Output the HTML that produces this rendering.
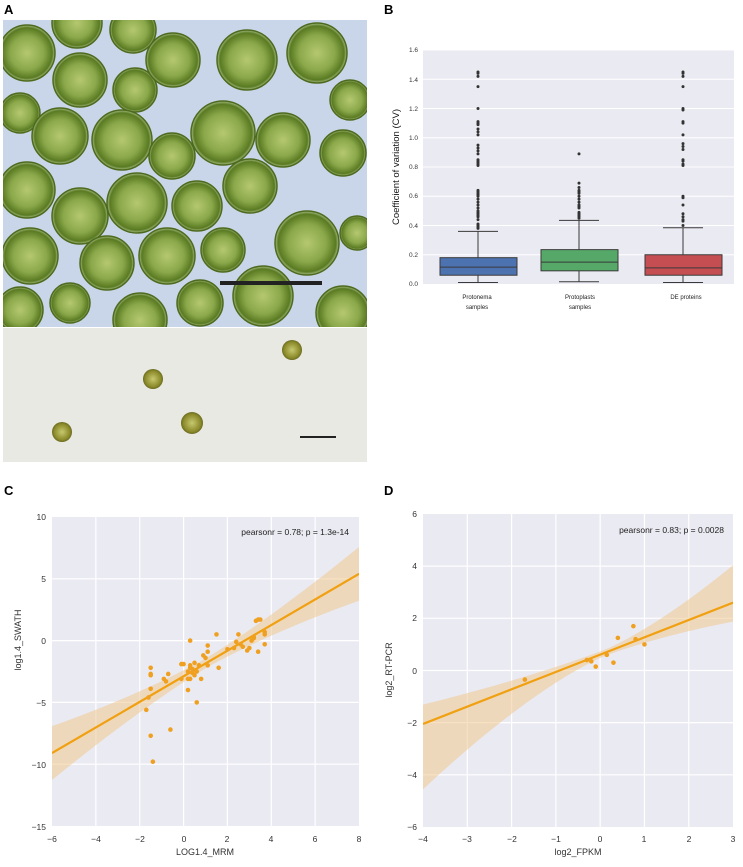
<!DOCTYPE html>
<html><head><meta charset="utf-8"><style>
html,body{margin:0;padding:0;background:#fff}
svg{display:block;font-family:"Liberation Sans",sans-serif}
</style></head><body>
<svg id="s" width="743" height="867" viewBox="0 0 743 867" xmlns="http://www.w3.org/2000/svg">
<defs>
<radialGradient id="cg" cx="50%" cy="50%" r="50%">
<stop offset="0" stop-color="#b5c870"/><stop offset="0.6" stop-color="#8aa84a"/><stop offset="0.9" stop-color="#5a7a22"/><stop offset="1" stop-color="#a7bf86"/>
</radialGradient>
<radialGradient id="sg" cx="50%" cy="50%" r="50%">
<stop offset="0" stop-color="#c8c870"/><stop offset="0.8" stop-color="#8a8a2a"/><stop offset="1" stop-color="#6a6a20"/>
</radialGradient>
<clipPath id="ca"><rect x="3" y="20" width="364" height="307"/></clipPath>
<clipPath id="cc"><rect x="52" y="517" width="307" height="309"/></clipPath>
<clipPath id="cd"><rect x="423" y="514" width="310" height="313"/></clipPath>
</defs>
<text x="4" y="14" font-size="13" font-weight="bold">A</text>
<text x="384" y="14" font-size="13" font-weight="bold">B</text>
<text x="4" y="495" font-size="13" font-weight="bold">C</text>
<text x="384" y="495" font-size="13" font-weight="bold">D</text>
<rect x="3" y="20" width="364" height="307" fill="#c9d6ea"/>
<g id="cells" clip-path="url(#ca)"></g>
<rect x="220" y="281" width="102" height="4" fill="#222"/>
<rect x="3" y="328" width="364" height="134" fill="#e9e9e4"/>
<circle cx="62" cy="432" r="10" fill="url(#sg)"/>
<circle cx="153" cy="379" r="10" fill="url(#sg)"/>
<circle cx="192" cy="423" r="11" fill="url(#sg)"/>
<circle cx="292" cy="350" r="10" fill="url(#sg)"/>
<rect x="300" y="436" width="36" height="2" fill="#222"/>
<!-- B -->
<rect x="423" y="50" width="311" height="234" fill="#eaeaf2"/>
<g id="bgrid" stroke="#fff" stroke-width="1"></g>
<g id="bbox"></g>
<g font-size="6.5" fill="#333" text-anchor="end">
<text x="418" y="286">0.0</text><text x="418" y="257">0.2</text><text x="418" y="228">0.4</text><text x="418" y="198">0.6</text><text x="418" y="169">0.8</text><text x="418" y="140">1.0</text><text x="418" y="111">1.2</text><text x="418" y="82">1.4</text><text x="418" y="52">1.6</text>
</g>
<g font-size="6" fill="#222" text-anchor="middle">
<text x="477" y="299">Protonema</text><text x="477" y="309">samples</text>
<text x="580" y="299">Protoplasts</text><text x="580" y="309">samples</text>
<text x="686" y="299">DE proteins</text>
</g>
<text transform="translate(399,167) rotate(-90)" font-size="9.5" text-anchor="middle" fill="#111">Coefficient of variation (CV)</text>
<!-- C -->
<rect x="52" y="517" width="307" height="309" fill="#eaeaf2"/>
<g id="cgrid" stroke="#fff" stroke-width="1.2"></g>
<g id="cplot" clip-path="url(#cc)"></g>
<text x="349" y="535" font-size="8.5" text-anchor="end" fill="#222">pearsonr = 0.78; p = 1.3e-14</text>
<g font-size="8.5" fill="#333" text-anchor="end">
<text x="46" y="520">10</text><text x="46" y="582">5</text><text x="46" y="644">0</text><text x="46" y="706">−5</text><text x="46" y="768">−10</text><text x="46" y="830">−15</text>
</g>
<g font-size="8.5" fill="#333" text-anchor="middle">
<text x="52" y="842">−6</text><text x="96" y="842">−4</text><text x="140" y="842">−2</text><text x="184" y="842">0</text><text x="227" y="842">2</text><text x="271" y="842">4</text><text x="315" y="842">6</text><text x="359" y="842">8</text>
</g>
<text x="205" y="855" font-size="9" text-anchor="middle" fill="#333">LOG1.4_MRM</text>
<text transform="translate(21,640) rotate(-90)" font-size="9" text-anchor="middle" fill="#333">log1.4_SWATH</text>
<!-- D -->
<rect x="423" y="514" width="310" height="313" fill="#eaeaf2"/>
<g id="dgrid" stroke="#fff" stroke-width="1.2"></g>
<g id="dplot" clip-path="url(#cd)"></g>
<text x="724" y="533" font-size="8.5" text-anchor="end" fill="#222">pearsonr = 0.83; p = 0.0028</text>
<g font-size="8.5" fill="#333" text-anchor="end">
<text x="417" y="517">6</text><text x="417" y="569">4</text><text x="417" y="621">2</text><text x="417" y="674">0</text><text x="417" y="726">−2</text><text x="417" y="778">−4</text><text x="417" y="830">−6</text>
</g>
<g font-size="8.5" fill="#333" text-anchor="middle">
<text x="423" y="842">−4</text><text x="467" y="842">−3</text><text x="512" y="842">−2</text><text x="556" y="842">−1</text><text x="600" y="842">0</text><text x="644" y="842">1</text><text x="689" y="842">2</text><text x="733" y="842">3</text>
</g>
<text x="578" y="855" font-size="9" text-anchor="middle" fill="#333">log2_FPKM</text>
<text transform="translate(392,670) rotate(-90)" font-size="9" text-anchor="middle" fill="#333">log2_RT-PCR</text>
</svg>
<script>
var NS="http://www.w3.org/2000/svg";
function el(p,t,a){var e=document.createElementNS(NS,t);for(var k in a)e.setAttribute(k,a[k]);document.getElementById(p).appendChild(e);return e;}
var cells=[[27,50,28],[77,20,25],[80,77,27],[133,27,23],[135,87,22],[173,57,27],[247,57,30],[317,50,30],[350,97,20],[20,110,20],[60,133,28],[122,137,30],[172,153,23],[223,130,32],[283,137,27],[343,150,23],[27,187,28],[80,213,28],[137,200,30],[197,203,25],[250,183,27],[307,240,32],[357,230,17],[30,253,28],[107,260,27],[167,253,28],[223,247,22],[263,293,30],[200,300,23],[140,317,27],[20,307,23],[70,300,20],[343,310,27]];
cells.forEach(function(c){el("cells","circle",{cx:c[0],cy:c[1]+3,r:c[2],fill:"url(#cg)",stroke:"#4d6a1e","stroke-width":1.5});});
function by(v){return 284-v*146.25;}
for(var v=0.2;v<1.61;v+=0.2)el("bgrid","line",{x1:423,x2:734,y1:by(v),y2:by(v)});
var boxes=[[478,"#4c72b0",0.01,0.06,0.115,0.18,0.36,[0.38,0.39,0.4,0.41,0.44,0.46,0.47,0.48,0.49,0.5,0.52,0.54,0.56,0.58,0.6,0.61,0.62,0.63,0.64,0.81,0.82,0.83,0.84,0.85,0.89,0.91,0.93,0.95,1.02,1.04,1.06,1.09,1.1,1.11,1.2,1.35,1.42,1.44,1.45]],
[579,"#55a868",0.015,0.09,0.15,0.235,0.435,[0.45,0.46,0.47,0.48,0.49,0.52,0.53,0.54,0.56,0.58,0.6,0.62,0.63,0.64,0.66,0.69,0.89]],
[683,"#c44e52",0.01,0.06,0.11,0.2,0.385,[0.4,0.43,0.44,0.46,0.48,0.54,0.59,0.6,0.81,0.82,0.84,0.85,0.92,0.94,0.96,1.02,1.1,1.11,1.19,1.2,1.35,1.42,1.44,1.45]]];
boxes.forEach(function(b){var x=b[0];
el("bbox","line",{x1:x,x2:x,y1:by(b[2]),y2:by(b[3]),stroke:"#3a3a3a","stroke-width":1});
el("bbox","line",{x1:x,x2:x,y1:by(b[5]),y2:by(b[6]),stroke:"#3a3a3a","stroke-width":1});
el("bbox","line",{x1:x-20,x2:x+20,y1:by(b[2]),y2:by(b[2]),stroke:"#3a3a3a","stroke-width":1});
el("bbox","line",{x1:x-20,x2:x+20,y1:by(b[6]),y2:by(b[6]),stroke:"#3a3a3a","stroke-width":1});
el("bbox","rect",{x:x-38,y:by(b[5]),width:77,height:by(b[3])-by(b[5]),fill:b[1],stroke:"#3a3a3a","stroke-width":1});
el("bbox","line",{x1:x-38,x2:x+39,y1:by(b[4]),y2:by(b[4]),stroke:"#3a3a3a","stroke-width":1});
b[7].forEach(function(o){el("bbox","circle",{cx:x,cy:by(o),r:1.5,fill:"#333"});});});
function cx(x){return 52+(x+6)*21.93;} function cy(y){return 517+(10-y)*12.36;}
for(var x=-4;x<=6;x+=2)el("cgrid","line",{x1:cx(x),x2:cx(x),y1:517,y2:826});
for(var y=5;y>=-10;y-=5)el("cgrid","line",{x1:52,x2:359,y1:cy(y),y2:cy(y)});
function band(g,fx,fy,x0,x1,line,hu,hd){var up=[],dn=[];for(var i=0;i<=40;i++){var x=x0+(x1-x0)*i/40,m=line(x);up.push(fx(x)+","+fy(m+hu(x)));dn.unshift(fx(x)+","+fy(m-hd(x)));}
el(g,"polygon",{points:up.concat(dn).join(" "),fill:"#f0c890","fill-opacity":0.55,stroke:"none"});
el(g,"line",{x1:fx(x0),y1:fy(line(x0)),x2:fx(x1),y2:fy(line(x1)),stroke:"#f0a010","stroke-width":2.2});}
var chw=function(x){return 0.4+Math.pow(Math.abs(x-1),1.6)*0.079;};
band("cplot",cx,cy,-6,8,function(x){return -9.1+(x+6)*14.5/14;},chw,chw);
var cp=[[-1.5,-2.2],[-1.5,-2.7],[-1.5,-2.8],[-1.5,-3.9],[-1.6,-4.6],[-1.7,-5.6],[-1.5,-7.7],[-1.4,-9.8],[-0.6,-7.2],[-0.7,-2.7],[-0.9,-3.1],[-0.8,-3.3],[-0.1,-1.9],[0,-1.9],[-0.1,-3.1],[0.2,-4],[0.3,0],[0.6,-5],[0.2,-2.5],[0.3,-2.2],[0.3,-2],[0.4,-2.3],[0.4,-2.6],[0.5,-2.8],[0.2,-3.1],[0.3,-3.1],[0.5,-1.8],[0.6,-2.5],[0.7,-2],[0.8,-3.1],[0.9,-1.2],[1,-1.4],[1.1,-0.4],[1.1,-0.9],[1.1,-2],[1.5,0.5],[1.6,-2.2],[2.5,0.5],[2.4,-0.1],[2.3,-0.6],[2.6,-0.3],[2.7,-0.5],[2.9,-0.8],[3,-0.6],[3.1,0],[3.2,0.2],[3.3,1.6],[3.4,1.7],[3.5,1.7],[3.4,-0.9],[3.7,0.5],[3.7,0.7],[3.7,-0.3],[3.2,0.3],[2,-0.7]];
cp.forEach(function(p){el("cplot","circle",{cx:cx(p[0]),cy:cy(p[1]),r:2.3,fill:"#f0a020"});});
function dx(x){return 423+(x+4)*44.29;} function dy(y){return 514+(6-y)*26.08;}
for(var x=-3;x<=2;x++)el("dgrid","line",{x1:dx(x),x2:dx(x),y1:514,y2:827});
for(var y=4;y>=-4;y-=2)el("dgrid","line",{x1:423,x2:733,y1:dy(y),y2:dy(y)});
band("dplot",dx,dy,-4,3,function(x){return -2.05+(x+4)*4.65/7;},
 function(x){var d=x-0.1;return d<0?0.12+Math.pow(-d,1.6)*0.065:0.12+Math.pow(d,1.6)*0.24;},
 function(x){var d=x-0.1;return d<0?0.12+Math.pow(-d,1.6)*0.25:0.12+Math.pow(d,1.6)*0.11;});
[[-1.7,-0.35],[-0.3,0.4],[-0.2,0.35],[-0.1,0.15],[0.15,0.6],[0.3,0.3],[0.4,1.25],[0.75,1.7],[0.8,1.2],[1,1]].forEach(function(p){el("dplot","circle",{cx:dx(p[0]),cy:dy(p[1]),r:2.3,fill:"#f0a020"});});
</script>
</body></html>
